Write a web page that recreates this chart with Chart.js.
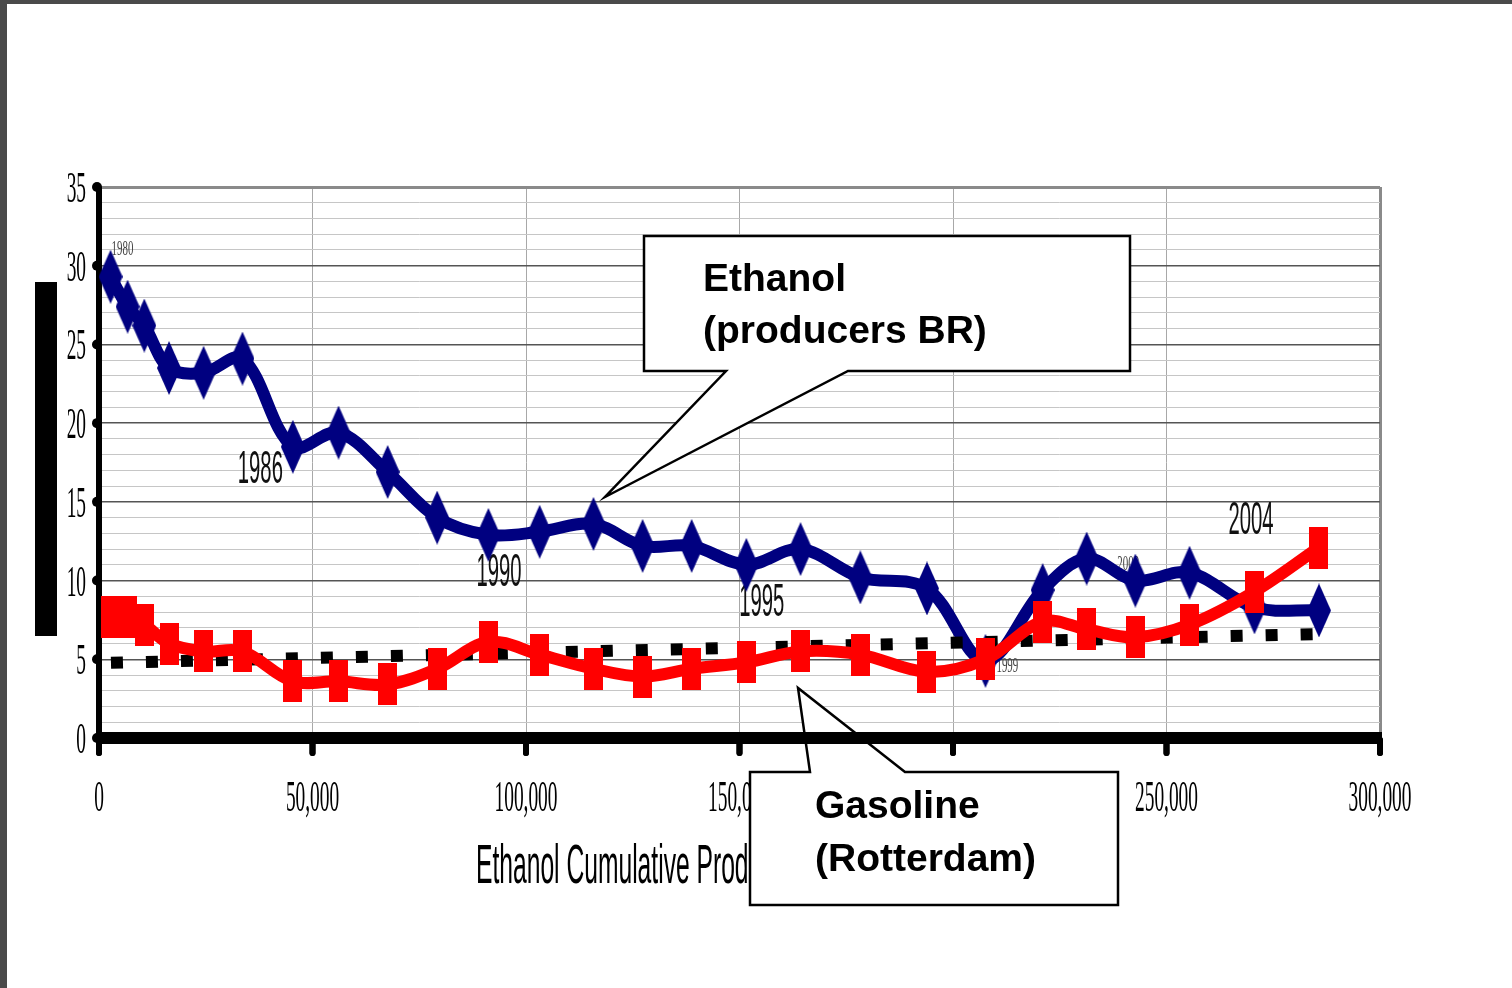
<!DOCTYPE html>
<html>
<head>
<meta charset="utf-8">
<title>Ethanol learning curve</title>
<style>
  html, body { margin: 0; padding: 0; background: #ffffff; }
  canvas { display: block; }
</style>
<script src="https://cdn.jsdelivr.net/npm/chart.js@4.4.1/dist/chart.umd.min.js"></script>
</head>
<body>
<canvas id="chart" width="1512" height="988"></canvas>
<script>
// Cumulative ethanol production for each year, 1980–2005
const cumulativeProduction = [2700, 6700, 10600, 16400, 24500, 33600, 45400, 56100, 67600, 79200,
  91200, 103200, 115800, 127300, 138800, 151600, 164300, 178300, 193900, 207600,
  221000, 231300, 242700, 255400, 270600, 285700];
// Ethanol price paid to producers in Brazil
const ethanolPrice = [29.3, 27.4, 26.2, 23.5, 23.2, 24.1, 18.5, 19.4, 16.9, 14.0,
  12.9, 13.1, 13.6, 12.2, 12.2, 11.0, 12.0, 10.2, 9.5, 4.9,
  9.4, 11.4, 10.0, 10.5, 8.3, 8.1];
// Gasoline price, Rotterdam
const gasolinePrice = [7.7, 7.7, 7.2, 6.0, 5.5, 5.5, 3.6, 3.6, 3.4, 4.4,
  6.1, 5.3, 4.4, 3.9, 4.4, 4.8, 5.5, 5.3, 4.2, 5.0,
  7.4, 6.9, 6.4, 7.2, 9.3, 12.1];
// Gasoline trend line (start and end)
const trendX = [2800, 284800];
const trendY = [4.78, 6.60];

const yTicks = [0, 5, 10, 15, 20, 25, 30, 35];
const yTickLabels = ['0', '5', '10', '15', '20', '25', '30', '35'];
const xTicks = [0, 50000, 100000, 150000, 200000, 250000, 300000];
const xTickLabels = ['0', '50,000', '100,000', '150,000', '200,000', '250,000', '300,000'];
const axisTitle = 'Ethanol Cumulative Production';

// Year tags attached to points of the ethanol curve
const yearTags = ['1980', '1986', '1990', '1995', '1999', '2002', '2004'];
const yearTagPoint = [0, 6, 10, 15, 19, 22, 24];

const calloutEthanol = ['Ethanol', '(producers BR)'];
const calloutGasoline = ['Gasoline', '(Rotterdam)'];

// ---- presentation ----
const NAVY = '#000080';
const RED = '#ff0000';
const SERIF = '"Liberation Serif", "Times New Roman", serif';
const SANS = '"Liberation Sans", Arial, sans-serif';

// tag style: small serif or large narrow sans, offset from the tagged point
const yearTagStyle = [
  { small: true,  dx: 1,   dy: -22 },
  { small: false, dx: -55, dy: 36 },
  { small: false, dx: -12, dy: 51 },
  { small: false, dx: -7,  dy: 51 },
  { small: true,  dx: 11,  dy: 11 },
  { small: true,  dx: -18, dy: -11 },
  { small: false, dx: -26, dy: -73 }
];

function markerCanvas(w, h, color, shape) {
  const c = document.createElement('canvas');
  c.width = w; c.height = h;
  const g = c.getContext('2d');
  g.fillStyle = color;
  if (shape === 'diamond') {
    g.beginPath();
    g.moveTo(w / 2, 0);
    g.lineTo(w, h / 2);
    g.lineTo(w / 2, h);
    g.lineTo(0, h / 2);
    g.closePath();
    g.fill();
  } else {
    g.fillRect(0, 0, w, h);
  }
  return c;
}
const diamondMark = markerCanvas(24, 54, NAVY, 'diamond');
const blockMark = markerCanvas(19, 42, RED, 'rect');

function narrowText(ctx, text, x, y, font, sx, align, color) {
  ctx.save();
  ctx.translate(x, y);
  ctx.scale(sx, 1);
  ctx.font = font;
  ctx.fillStyle = color;
  ctx.textAlign = align;
  ctx.textBaseline = 'alphabetic';
  ctx.fillText(text, 0, 0);
  ctx.restore();
}

function drawBottomAxis(chart) {
  const ctx = chart.ctx;
  const xs = chart.scales.x, a = chart.chartArea;
  ctx.save();
  ctx.fillStyle = '#000';
  ctx.fillRect(a.left - 3, a.bottom - 6, a.right - a.left + 5, 12);
  ctx.strokeStyle = '#000';
  ctx.lineWidth = 6;
  ctx.lineCap = 'round';
  xTicks.forEach(v => {
    const px = xs.getPixelForValue(v);
    ctx.beginPath();
    ctx.moveTo(px, a.bottom + 2);
    ctx.lineTo(px, a.bottom + 15);
    ctx.stroke();
  });
  ctx.restore();
}

function drawCallout(ctx, pts, lines, tx, baselines) {
  ctx.save();
  ctx.beginPath();
  ctx.moveTo(pts[0][0], pts[0][1]);
  for (let i = 1; i < pts.length; i++) ctx.lineTo(pts[i][0], pts[i][1]);
  ctx.closePath();
  ctx.fillStyle = '#ffffff';
  ctx.fill();
  ctx.lineWidth = 2.5;
  ctx.strokeStyle = '#000';
  ctx.lineJoin = 'miter';
  ctx.stroke();
  ctx.font = 'bold 39px ' + SANS;
  ctx.fillStyle = '#000';
  ctx.textAlign = 'left';
  ctx.textBaseline = 'alphabetic';
  lines.forEach((t, i) => ctx.fillText(t, tx, baselines[i]));
  ctx.restore();
}

const decor = {
  id: 'decor',
  beforeDraw(chart) {
    const ctx = chart.ctx;
    ctx.save();
    ctx.fillStyle = '#ffffff';
    ctx.fillRect(0, 0, chart.width, chart.height);
    ctx.fillStyle = '#4a4a4a';
    ctx.fillRect(0, 0, chart.width, 4);
    ctx.fillRect(0, 0, 7, chart.height);
    // value axis title block
    ctx.fillStyle = '#000';
    ctx.fillRect(35, 282, 22, 354);
    ctx.restore();
  },
  beforeDatasetsDraw(chart) {
    const ctx = chart.ctx;
    const xs = chart.scales.x, ys = chart.scales.y, a = chart.chartArea;
    ctx.save();
    // value axis with round tick dots
    ctx.strokeStyle = '#000';
    ctx.lineWidth = 6;
    ctx.beginPath();
    ctx.moveTo(a.left, a.top);
    ctx.lineTo(a.left, a.bottom + 6);
    ctx.stroke();
    ctx.fillStyle = '#000';
    yTicks.forEach(v => {
      ctx.beginPath();
      ctx.arc(a.left - 2, ys.getPixelForValue(v), 5, 0, Math.PI * 2);
      ctx.fill();
    });
    ctx.restore();
    drawBottomAxis(chart);

    // tick labels
    yTicks.forEach((v, i) => {
      narrowText(ctx, yTickLabels[i], 86, ys.getPixelForValue(v) + 15, '44px ' + SERIF, 0.44, 'right', '#000');
    });
    xTicks.forEach((v, i) => {
      narrowText(ctx, xTickLabels[i], xs.getPixelForValue(v), 811, '44px ' + SERIF, 0.44, 'center', '#000');
    });
    narrowText(ctx, axisTitle, 476, 883, '56px ' + SANS, 0.44, 'left', '#000');

    // year tags
    yearTags.forEach((t, i) => {
      const k = yearTagPoint[i];
      const st = yearTagStyle[i];
      const px = xs.getPixelForValue(cumulativeProduction[k]) + st.dx;
      const py = ys.getPixelForValue(ethanolPrice[k]) + st.dy;
      if (st.small) {
        narrowText(ctx, t, px, py, '21px ' + SERIF, 0.52, 'left', '#444');
      } else {
        narrowText(ctx, t, px, py, '46px ' + SANS, 0.44, 'left', '#111');
      }
    });
  },
  afterDraw(chart) {
    const ctx = chart.ctx;
    drawCallout(ctx,
      [[644, 236], [1130, 236], [1130, 371], [848, 371], [605, 497], [726, 371], [644, 371]],
      calloutEthanol, 703, [291, 343]);
    drawCallout(ctx,
      [[750, 772], [810, 772], [798, 688], [905, 772], [1118, 772], [1118, 905], [750, 905]],
      calloutGasoline, 815, [818, 871]);
    drawBottomAxis(chart);
  }
};

const toPoints = (xs, ys) => xs.map((x, i) => ({ x: x, y: ys[i] }));

new Chart(document.getElementById('chart').getContext('2d'), {
  type: 'line',
  data: {
    datasets: [
      {
        label: 'Gasoline (Rotterdam)',
        data: toPoints(cumulativeProduction, gasolinePrice),
        borderColor: RED,
        backgroundColor: RED,
        borderWidth: 12,
        tension: 0.35,
        pointStyle: blockMark,
        pointRadius: 10,
        pointHoverRadius: 10,
        fill: false
      },
      {
        label: 'Gasoline trend',
        data: toPoints(trendX, trendY),
        borderColor: '#000',
        borderWidth: 12,
        borderDash: [12, 23],
        borderCapStyle: 'butt',
        pointRadius: 0,
        pointHoverRadius: 0,
        tension: 0,
        fill: false
      },
      {
        label: 'Ethanol (producers BR)',
        data: toPoints(cumulativeProduction, ethanolPrice),
        borderColor: NAVY,
        backgroundColor: NAVY,
        borderWidth: 12,
        tension: 0.35,
        pointStyle: diamondMark,
        pointRadius: 12,
        pointHoverRadius: 12,
        fill: false
      }
    ]
  },
  options: {
    responsive: false,
    animation: false,
    devicePixelRatio: 1,
    events: [],
    layout: { padding: { left: 99, top: 187, right: 132, bottom: 250 } },
    plugins: { legend: { display: false }, tooltip: { enabled: false } },
    scales: {
      x: {
        type: 'linear',
        min: 0, max: 300000,
        ticks: { display: false, stepSize: 50000 },
        border: { display: false },
        grid: {
          drawTicks: false,
          color: c => (c.tick && c.tick.value === 300000) ? '#8a8a8a' : '#a8a8a8',
          lineWidth: c => (c.tick && c.tick.value === 300000) ? 3 : 1
        }
      },
      y: {
        min: 0, max: 35,
        ticks: { display: false, stepSize: 1 },
        border: { display: false },
        grid: {
          drawTicks: false,
          color: c => {
            const v = c.tick ? c.tick.value : 0;
            if (v === 35) return '#8a8a8a';
            return v % 5 === 0 ? '#555555' : '#c6c6c6';
          },
          lineWidth: c => {
            const v = c.tick ? c.tick.value : 0;
            if (v === 35) return 3;
            return v % 5 === 0 ? 1.5 : 1;
          }
        }
      }
    }
  },
  plugins: [decor]
});
</script>
</body>
</html>
